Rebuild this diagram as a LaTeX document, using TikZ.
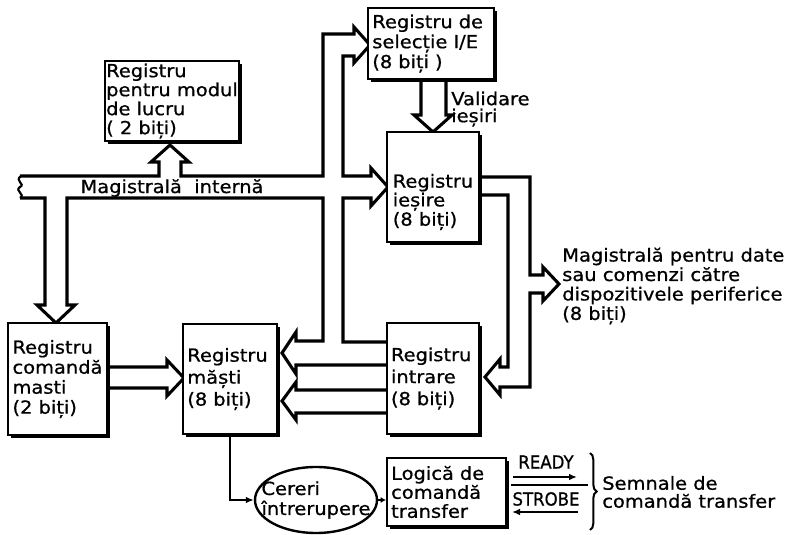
\documentclass[tikz,border=0pt]{standalone}
\usepackage{fontspec}
\setmainfont{DejaVu Sans}[FakeStretch=1.08,FakeBold=0.8]
\newfontfamily\condfont{DejaVu Sans}[FakeStretch=0.92,FakeBold=0.8]
\usetikzlibrary{shadows,shapes.geometric,decorations.pathreplacing,arrows.meta,calc}
\tikzset{
  lsp/.style={font=\fontsize{13.5}{#1}\selectfont},
  regbox/.style={draw, fill=white, line width=1.5pt,
    general shadow={fill=black, shadow xshift=2.25pt, shadow yshift=-2.25pt},
    align=left, inner sep=3pt},
  bus/.style={line width=2.3pt, line join=miter, miter limit=10},
  sig/.style={line width=1.4pt, -{Latex[length=6pt,width=5pt]}},
  lbl/.style={inner sep=0pt, align=left}
}
\begin{document}
\begin{tikzpicture}[x=0.75pt,y=-0.75pt]
\useasboundingbox (0,0) rectangle (794,535);

% ---------- internal bus and wide arrows ----------
\draw[bus] (20,176) -- (159,176) -- (159,162) -- (151,162) -- (170,145) -- (189,162) -- (181,162) -- (181,176)
  -- (323,176) -- (323,34) -- (354,34) -- (354,27) -- (370,45) -- (354,63) -- (354,56) -- (343,56)
  -- (343,176) -- (371,176) -- (371,168) -- (388,187) -- (371,206) -- (371,198) -- (343,198)
  -- (343,342) -- (388,342);
\draw[bus] (20,198) -- (45,198) -- (45,305) -- (37,305) -- (56,323) -- (75,305) -- (67,305) -- (67,198)
  -- (323,198) -- (323,341) -- (296,341) -- (296,332) -- (282,353) -- (296,374) -- (296,365) -- (388,365);
\draw[line width=1.6pt] (21,176) .. controls (14,181) and (26,184) .. (20,187) .. controls (14,191) and (26,194) .. (20,198);
% second band intrare -> masti
\draw[bus] (388,390) -- (296,390) -- (296,382) -- (282,401) -- (296,420) -- (296,413) -- (388,413);
% comanda -> masti
\draw[bus] (106,367) -- (167,367) -- (167,360) -- (184,378) -- (167,396) -- (167,388) -- (106,388);
% validare iesiri
\draw[bus] (421,80) -- (421,115) -- (414,115) -- (433,132) -- (452,115) -- (446,115) -- (446,80);
% peripheral bus
\draw[bus] (478,177) -- (530,177) -- (530,275) -- (543,275) -- (543,267) -- (559,284) -- (543,301) -- (543,293)
  -- (530,293) -- (530,387) -- (500,387) -- (500,395) -- (485,377) -- (500,359) -- (500,367) -- (508,367)
  -- (508,195) -- (478,195);

% ---------- boxes ----------
\node[regbox, lsp=14.25pt, inner sep=1pt, minimum width=100.5pt, minimum height=60pt] (modul) at (172,101)
  {Registru\\pentru modul\\de lucru\\( 2 biți)};
\node[regbox, lsp=15pt, text width=88pt, minimum width=94.5pt, minimum height=53.25pt] (selectie) at (431,43.5)
  {Registru de\\selecție I/E\\(8 biți )};
\node[regbox, minimum width=69pt, minimum height=82.5pt] (iesire) at (433,187) {};
\node[lbl, lsp=12.75pt] (iesireT) at ($(iesire.center)+(0,15)$) {Registru\\ieșire\\(8 biți)};
\node[regbox, lsp=15pt, minimum width=71.25pt, minimum height=84pt] (comanda) at (57.5,379)
  {Registru\\comandă\\masti\\(2 biți)};
\node[regbox, lsp=16.5pt, text width=64pt, minimum width=70.5pt, minimum height=82.5pt] (masti) at (230,379)
  {Registru\\măști\\(8 biți)};
\node[regbox, lsp=16.5pt, text width=63pt, minimum width=69pt, minimum height=83.25pt] (intrare) at (433,378.5)
  {Registru\\intrare\\(8 biți)};
\node[regbox, lsp=14.25pt, text width=83pt, minimum width=89.25pt, minimum height=51pt] (logica) at (446.5,492)
  {Logică de\\comandă\\transfer};
\node[ellipse, draw, fill=white, line width=1.8pt, inner sep=0pt, minimum width=91.5pt, minimum height=49.5pt] (cereri) at (316,500) {};
\node[lbl, lsp=15pt] (cereriT) at (cereri.center) {Cereri\\întrerupere};

% ---------- texts ----------
\node[lbl, lsp=15pt] (mint) at (172,188) {Magistrală\ \ internă};
\node[lbl, lsp=12.75pt, anchor=west] (valid) at (451,109) {Validare\\ieșiri};
\node[lbl, lsp=14.6pt, anchor=west] (perif) at (562,286)
  {Magistrală pentru date\\sau comenzi către\\dispozitivele periferice\\(8 biți)};
\node[lbl, font=\fontsize{13.5}{15}\condfont] (ready) at (546,462) {READY};
\node[lbl, font=\fontsize{13.5}{15}\condfont] (strobe) at (546,499) {STROBE};
\draw[line width=1.3pt] ($(strobe.north west)+(-1,-7)$) -- ($(strobe.north east)+(8,-7)$);
\node[lbl, lsp=13.5pt, anchor=west] (semnale) at (602,492) {Semnale de\\comandă transfer};

% ---------- signal connectors ----------
\coordinate (readyEnd) at (577,477);
\coordinate (strobeStart) at (578,512);
\draw[sig] (masti.south) |- (cereri.west);
\draw[line width=1.4pt, -{Latex[length=4pt,width=4.5pt]}] (cereri.east) -- (cereri.east -| logica.west);
\draw[sig] ($(logica.east |- readyEnd)+(6,0)$) -- (readyEnd);
\draw[sig] (strobeStart) -- ($(logica.east |- strobeStart)+(5,0)$);
\draw[line width=1.5pt, decorate, decoration={brace, amplitude=5pt}] (590,453) -- (590,530);
\end{tikzpicture}
\end{document}
